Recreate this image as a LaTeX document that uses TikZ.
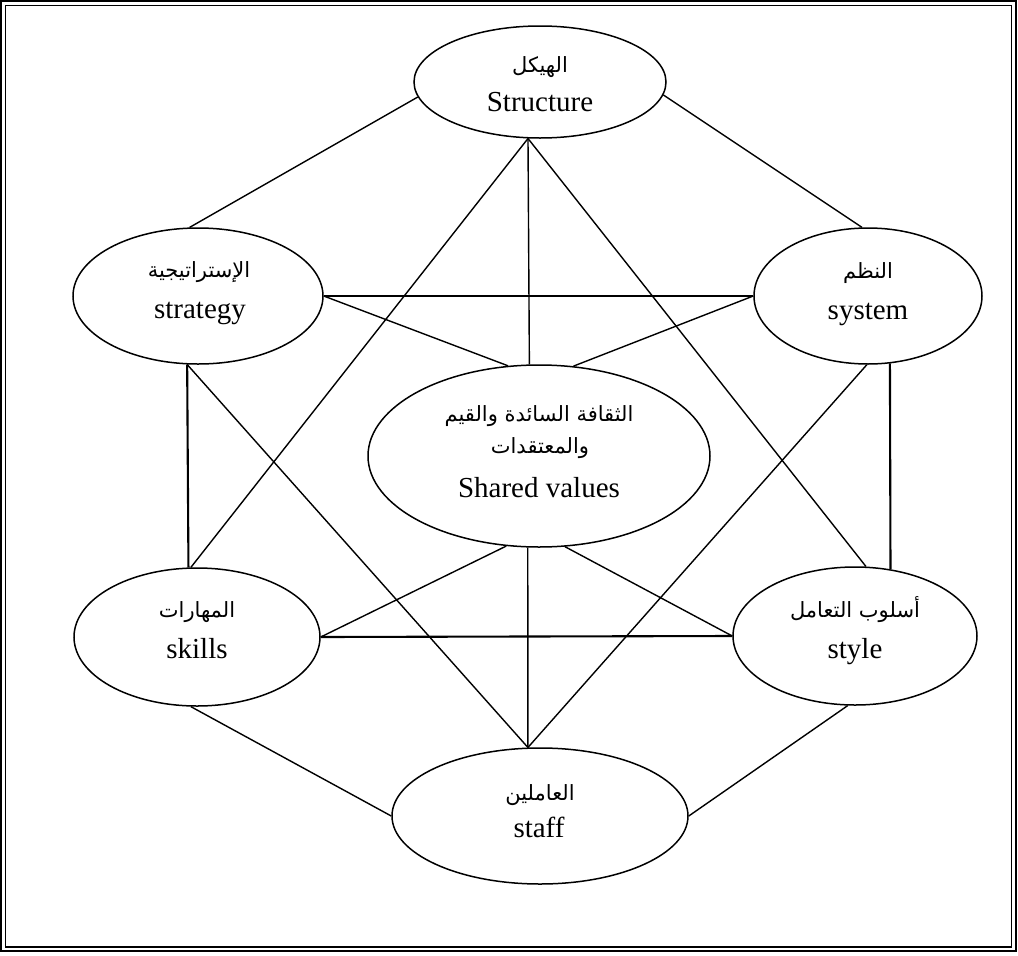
\documentclass[tikz,border=0pt]{standalone}
\usepackage{fontspec}
\setmainfont{Liberation Serif}
\newfontfamily\arabicfont[Script=Arabic]{DejaVu Sans}
\TeXXeTstate=1
\usetikzlibrary{shapes.geometric}

\begin{document}
\begin{tikzpicture}[x=1pt,y=-1pt,
  oval/.style={draw, ellipse, line width=1.5pt, inner sep=0pt},
  link/.style={line width=1.4pt},
  bar/.style={line width=2.1pt},
  en/.style={anchor=base, inner sep=0pt, font=\fontsize{29}{34}\selectfont},
  ar/.style={anchor=base, inner sep=0pt, font=\arabicfont\fontsize{21}{25}\selectfont}]

  \useasboundingbox (0,0) rectangle (1018,956);

  % double frame
  \draw[line width=2pt] (1,1) rectangle (1016,951);
  \draw[line width=1.2pt] (5.3,5.3) rectangle (1011.7,947);

  % the seven elements
  \node[oval, minimum width=252pt, minimum height=112pt] (S)   at (540,82)  {};
  \node[oval, minimum width=250pt, minimum height=136pt] (Str) at (198,296) {};
  \node[oval, minimum width=228pt, minimum height=136pt] (Sys) at (868,296) {};
  \node[oval, minimum width=342pt, minimum height=182pt] (SV)  at (539,456) {};
  \node[oval, minimum width=246pt, minimum height=138pt] (Sk)  at (197,637) {};
  \node[oval, minimum width=244pt, minimum height=138pt] (Sty) at (855,636) {};
  \node[oval, minimum width=296pt, minimum height=136pt] (Stf) at (540,816) {};

  % labels
  \node[ar] (aS)   at (540,72)  {\beginR الهيكل\endR};
  \node[en] (eS)   at (540,111) {Structure};
  \node[ar] (aStr) at (199,277) {\beginR الإستراتيجية\endR};
  \node[en] (eStr) at (200,318) {strategy};
  \node[ar] (aSys) at (868,278) {\beginR النظم\endR};
  \node[en] (eSys) at (868,319) {system};
  \node[ar] (aSV1) at (539,421) {\beginR الثقافة السائدة والقيم\endR};
  \node[ar] (aSV2) at (540,453) {\beginR والمعتقدات\endR};
  \node[en] (eSV)  at (539,497) {Shared values};
  \node[ar] (aSk)  at (197,617) {\beginR المهارات\endR};
  \node[en] (eSk)  at (197,658) {skills};
  \node[ar] (aSty) at (855,617) {\beginR أسلوب التعامل\endR};
  \node[en] (eSty) at (855,658) {style};
  \node[ar] (aStf) at (540,800) {\beginR العاملين\endR};
  \node[en] (eStf) at (539,837) {staff};

  % outer ring
  \draw[link] (S.187) -- (Str.97);
  \draw[link] (S.354) -- (Sys.95);
  \draw[link] (Sk.265) -- (Stf.180);
  \draw[link] (Sty.264) -- (Stf.0);

  % horizontals and verticals
  \draw[bar] (Str.0) -- (Sys.180);
  \draw[bar] (Sk.0) -- (Sty.180);
  \draw[bar] (Str.261.6) -- (Sk.97.4);
  \draw[bar] (Sys.288.2) -- (Sty.62.1);
  \draw[link] (S.258) -- (SV.96.9);
  \draw[link] (SV.263.1) -- (Stf.100);

  % long diagonals
  \draw[link] (S.258) -- (Sk.95.8);
  \draw[link] (S.258) -- (Sty.81.6);
  \draw[link] (Str.261.6) -- (Stf.100);
  \draw[link] (Sys.269) -- (Stf.100);

  % spokes into the centre
  \draw[link] (Str.0) -- (SV.109.7);
  \draw[link] (Sys.180) -- (SV.69.1);
  \draw[link] (Sk.0) -- (SV.250.3);
  \draw[link] (Sty.180) -- (SV.286.1);
\end{tikzpicture}
\end{document}
